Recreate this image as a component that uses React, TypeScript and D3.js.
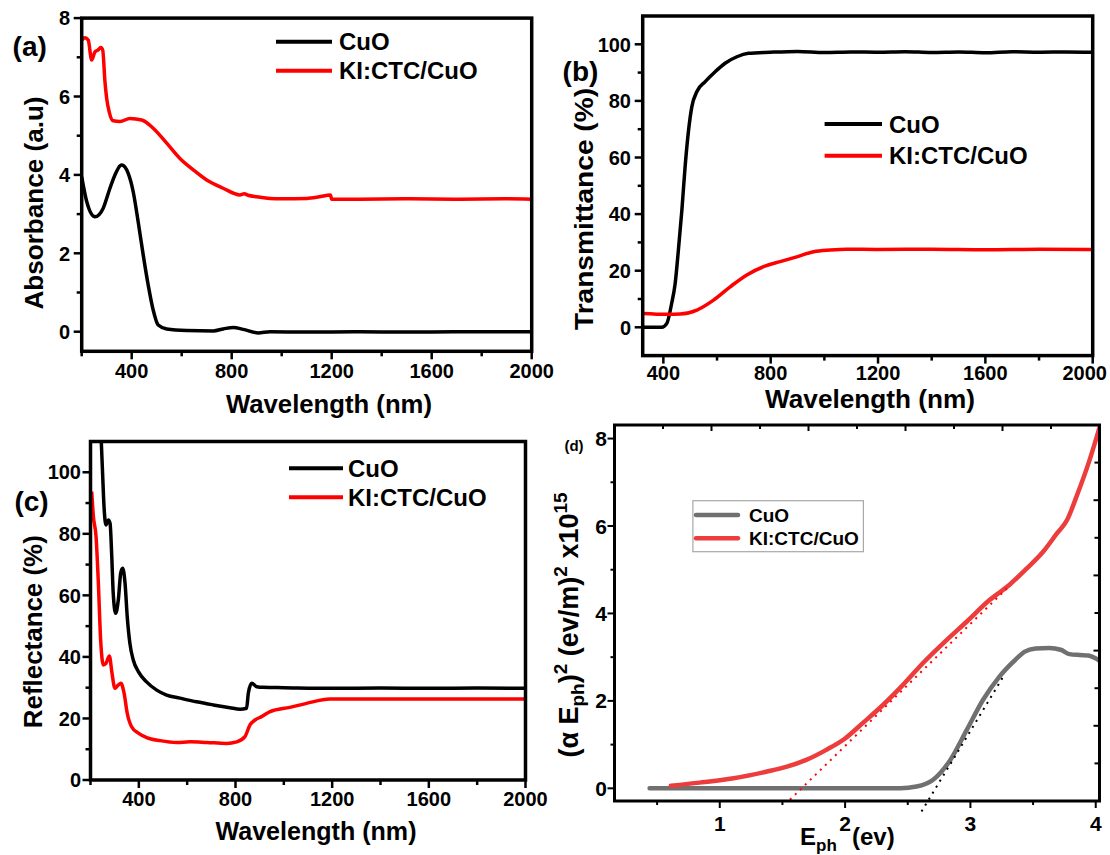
import React from "react";
import * as d3 from "d3";

const FONT = "'Liberation Sans', Arial, Helvetica, sans-serif";

// ---------------- (a) Absorbance ----------------
const absWlCuO = [200, 220, 253, 286, 313, 333, 360, 386, 406, 426, 446, 466, 486, 506, 540, 620, 726, 766, 806, 846, 906, 953, 1100, 1300, 1500, 1700, 1900, 2000];
const absCuO = [3.95, 3.32, 2.93, 3.15, 3.66, 4.0, 4.25, 4.04, 3.57, 2.8, 1.96, 1.19, 0.55, 0.17, 0.07, 0.03, 0.02, 0.07, 0.11, 0.06, -0.03, 0.0, -0.01, 0.0, -0.01, 0.0, 0.0, 0.0];
const absWlKI = [200, 213, 226, 240, 253, 266, 276, 284, 293, 300, 310, 326, 353, 393, 440, 486, 540, 593, 646, 700, 766, 833, 850, 866, 900, 953, 1000, 1100, 1150, 1195, 1200, 1300, 1500, 1700, 1900, 2000];
const absKI = [7.44, 7.5, 7.44, 6.93, 7.14, 7.19, 7.25, 7.19, 6.38, 5.95, 5.61, 5.38, 5.36, 5.44, 5.4, 5.19, 4.81, 4.42, 4.13, 3.87, 3.66, 3.49, 3.52, 3.48, 3.44, 3.4, 3.39, 3.4, 3.44, 3.49, 3.38, 3.38, 3.39, 3.38, 3.39, 3.38];

// ---------------- (b) Transmittance ----------------
const trWlCuO = [323, 394, 413, 431, 444, 456, 469, 481, 494, 506, 525, 556, 593, 630, 674, 717, 798, 900, 1000, 1100, 1200, 1300, 1400, 1500, 1600, 1700, 1800, 1900, 2000];
const trCuO = [0, 0, 1.4, 8.5, 15.5, 27.3, 41.4, 56.7, 69.7, 77.9, 83.3, 86.8, 90.3, 93.3, 95.6, 96.8, 97.2, 97.5, 97.1, 97.3, 97.2, 97.4, 97.1, 97.3, 97.0, 97.4, 97.2, 97.3, 97.2];
const trWlKI = [323, 413, 463, 525, 587, 649, 711, 773, 835, 897, 960, 1022, 1084, 1200, 1400, 1600, 1800, 2000];
const trKI = [4.9, 4.6, 4.7, 6.1, 9.6, 14.3, 18.5, 21.4, 23.2, 24.9, 26.7, 27.3, 27.6, 27.5, 27.6, 27.4, 27.6, 27.5];

// ---------------- (c) Reflectance ----------------
const rfWlCuO = [243, 250, 256, 264, 274, 281, 288, 294, 304, 315, 325, 333, 343, 352, 363, 377, 398, 432, 474, 515, 570, 639, 708, 777, 819, 846, 853, 867, 888, 915, 1000, 1200, 1400, 1600, 1800, 2000];
const rfCuO = [113, 99.7, 88.8, 82.9, 84.5, 83.4, 72.6, 60.7, 54.2, 58.5, 67.2, 68.8, 63.9, 53.1, 44.4, 39, 35.2, 31.9, 29.2, 27.6, 26.6, 25.4, 24.4, 23.5, 23.0, 23.3, 28.2, 31.4, 30.3, 30.1, 30.0, 29.8, 29.9, 29.8, 29.9, 29.8];
const rfWlKI = [205, 212, 223, 232, 242, 253, 264, 278, 289, 301, 315, 326, 339, 352, 370, 398, 432, 488, 557, 612, 681, 763, 805, 839, 860, 881, 908, 943, 1025, 1094, 1191, 1400, 1600, 1800, 2000];
const rfKI = [93.7, 85.6, 79.1, 65, 45.5, 37.4, 37.9, 40.3, 34.7, 29.8, 30.9, 31.4, 28.2, 21.7, 17.3, 15.2, 13.8, 12.8, 12.2, 12.4, 12.2, 11.9, 12.4, 14.1, 17.9, 19.5, 20.6, 22.2, 23.6, 24.9, 26.3, 26.3, 26.3, 26.3, 26.3];

// ---------------- (d) Tauc plot ----------------
const taucECuO = [0.44, 1.0, 1.5, 2.0, 2.44, 2.57, 2.7, 2.84, 2.97, 3.1, 3.23, 3.37, 3.43, 3.52, 3.63, 3.72, 3.79, 3.87, 3.94, 4.03];
const taucCuO = [0, 0, 0, 0, 0, 0.04, 0.19, 0.65, 1.33, 2.02, 2.55, 2.97, 3.12, 3.2, 3.21, 3.17, 3.07, 3.05, 3.04, 2.92];
const taucEKI = [0.61, 0.84, 1.11, 1.37, 1.53, 1.69, 1.85, 2.0, 2.14, 2.3, 2.46, 2.62, 2.81, 2.97, 3.15, 3.31, 3.45, 3.58, 3.69, 3.77, 3.85, 3.95, 4.03];
const taucKI = [0.06, 0.13, 0.23, 0.38, 0.49, 0.65, 0.88, 1.14, 1.49, 1.9, 2.36, 2.86, 3.39, 3.81, 4.3, 4.65, 5.03, 5.41, 5.83, 6.13, 6.7, 7.5, 8.25];
const fitEKI = [1.56, 3.29];
const fitKI = [-0.26, 4.57];
const fitECuO = [2.61, 3.27];
const fitCuO = [-0.53, 2.59];

// ---------------- labels & ticks ----------------
const legendLabels = ["CuO", "KI:CTC/CuO"];
const wlMajor = [400, 800, 1200, 1600, 2000];
const wlMinor = [200, 600, 1000, 1400, 1800];
const wlMinorB = [600, 1000, 1400, 1800];
const absMajor = [0, 2, 4, 6, 8];
const absMinor = [1, 3, 5, 7];
const pctMajor = [0, 20, 40, 60, 80, 100];
const pctMinor = [10, 30, 50, 70, 90];
const eMajor = [1, 2, 3, 4];
const eMinor = [0.5, 1.5, 2.5, 3.5];
const tMajor = [0, 2, 4, 6, 8];
const tMinor = [1, 3, 5, 7];
const auxMajor = [2, 4, 6, 8];
const auxMinor = [1, 3, 5, 7, 9];

type Lin = d3.ScaleLinear<number, number>;
type Series = { xs: number[]; ys: number[]; color: string; w: number; dash?: string; cap?: string; noClip?: boolean; straight?: boolean };

function pathOf(s: Series, x: Lin, y: Lin) {
  const gen = d3
    .line<number>()
    .x((_, i) => x(s.xs[i]))
    .y((_, i) => y(s.ys[i]))
    .curve(s.straight ? d3.curveLinear : d3.curveMonotoneX);
  return gen(s.xs.map((_, i) => i)) || "";
}

function Panel(p: {
  id: string;
  x: Lin;
  y: Lin;
  xMajor: number[];
  xMinor: number[];
  yMajor: number[];
  yMinor: number[];
  series: Series[];
  majorLen: number;
  minorLen: number;
  frameW: number;
  tickW: number;
  tickFont: number;
  xTickBase: number;
  yTickRight: number;
  xLabelMax?: number;
  inner?: { top: Lin; right: Lin; major: number[]; minor: number[] };
}) {
  const [x0, x1] = p.x.range();
  const [yb, yt] = p.y.range();
  const clipped = p.series.filter((s) => !s.noClip);
  const free = p.series.filter((s) => s.noClip);
  const labelX = (v: number) => {
    const cx = p.x(v);
    if (p.xLabelMax === undefined) return cx;
    const half = (String(v).length * 0.556 * p.tickFont) / 2;
    return Math.min(cx, p.xLabelMax - half);
  };
  return (
    <g>
      <defs>
        <clipPath id={p.id}>
          <rect x={x0} y={yt} width={x1 - x0} height={yb - yt} />
        </clipPath>
      </defs>
      <g clipPath={`url(#${p.id})`}>
        {clipped.map((s, i) => (
          <path key={i} d={pathOf(s, p.x, p.y)} fill="none" stroke={s.color} strokeWidth={s.w} strokeLinejoin="round" strokeLinecap={(s.cap as any) || "butt"} strokeDasharray={s.dash} />
        ))}
      </g>
      {free.map((s, i) => (
        <path key={"f" + i} d={pathOf(s, p.x, p.y)} fill="none" stroke={s.color} strokeWidth={s.w} strokeLinecap={(s.cap as any) || "butt"} strokeDasharray={s.dash} />
      ))}
      <g stroke="#000" strokeWidth={p.tickW}>
        {p.xMajor.map((v) => (
          <line key={"xM" + v} x1={p.x(v)} x2={p.x(v)} y1={yb} y2={yb + p.majorLen} />
        ))}
        {p.xMinor.map((v) => (
          <line key={"xm" + v} x1={p.x(v)} x2={p.x(v)} y1={yb} y2={yb + p.minorLen} />
        ))}
        {p.yMajor.map((v) => (
          <line key={"yM" + v} x1={x0 - p.majorLen} x2={x0} y1={p.y(v)} y2={p.y(v)} />
        ))}
        {p.yMinor.map((v) => (
          <line key={"ym" + v} x1={x0 - p.minorLen} x2={x0} y1={p.y(v)} y2={p.y(v)} />
        ))}
        {p.inner &&
          p.inner.major.map((v) => (
            <g key={"iM" + v}>
              <line x1={p.inner!.top(v)} x2={p.inner!.top(v)} y1={yt} y2={yt + 6} />
              <line x1={x1 - 6} x2={x1} y1={p.inner!.right(v)} y2={p.inner!.right(v)} />
            </g>
          ))}
        {p.inner &&
          p.inner.minor.map((v) => (
            <g key={"im" + v}>
              <line x1={p.inner!.top(v)} x2={p.inner!.top(v)} y1={yt} y2={yt + 4} />
              <line x1={x1 - 5} x2={x1} y1={p.inner!.right(v)} y2={p.inner!.right(v)} />
            </g>
          ))}
      </g>
      <rect x={x0} y={yt} width={x1 - x0} height={yb - yt} fill="none" stroke="#000" strokeWidth={p.frameW} />
      <g fontFamily={FONT} fontWeight="bold" fontSize={p.tickFont} fill="#000">
        {p.xMajor.map((v) => (
          <text key={"xl" + v} x={labelX(v)} y={p.xTickBase} textAnchor="middle">
            {String(v)}
          </text>
        ))}
        {p.yMajor.map((v) => (
          <text key={"yl" + v} x={p.yTickRight} y={p.y(v)} dy="0.36em" textAnchor="end">
            {String(v)}
          </text>
        ))}
      </g>
    </g>
  );
}

function Legend(p: { x1: number; x2: number; tx: number; rows: number[]; colors: string[]; font: number; w: number; cap?: string }) {
  return (
    <g fontFamily={FONT} fontWeight="bold" fontSize={p.font} fill="#000">
      {legendLabels.map((lab, i) => (
        <g key={lab}>
          <line x1={p.x1} x2={p.x2} y1={p.rows[i]} y2={p.rows[i]} stroke={p.colors[i]} strokeWidth={p.w} strokeLinecap={(p.cap as any) || "butt"} />
          <text x={p.tx} y={p.rows[i]} dy="0.36em">
            {lab}
          </text>
        </g>
      ))}
    </g>
  );
}

function XTitle(p: { cx: number; base: number; len: number; text: string }) {
  return (
    <text x={p.cx} y={p.base} textAnchor="middle" fontFamily={FONT} fontWeight="bold" fontSize={26} textLength={p.len} lengthAdjust="spacingAndGlyphs">
      {p.text}
    </text>
  );
}

function YTitle(p: { bx: number; cy: number; len: number; text: string }) {
  return (
    <text transform={`translate(${p.bx},${p.cy}) rotate(-90)`} textAnchor="middle" fontFamily={FONT} fontWeight="bold" fontSize={26} textLength={p.len} lengthAdjust="spacingAndGlyphs">
      {p.text}
    </text>
  );
}

export default function App() {
  const xA = d3.scaleLinear().domain([200, 2000]).range([81.7, 531.7]);
  const yA = d3.scaleLinear().domain([-0.5, 8]).range([351.3, 18.1]);
  const xB = d3.scaleLinear().domain([323, 2000]).range([642.7, 1092.7]);
  const yB = d3.scaleLinear().domain([-10, 110]).range([355.6, 16]);
  const xC = d3.scaleLinear().domain([200, 2000]).range([90.5, 525.5]);
  const yC = d3.scaleLinear().domain([0, 110]).range([780, 441.5]);
  const xD = d3.scaleLinear().domain([0.16, 4.03]).range([614.5, 1099.5]);
  const yD = d3.scaleLinear().domain([-0.29, 8.31]).range([801, 425]);
  const topD = d3.scaleLinear().domain([0, 10]).range([614.5, 1099.5]);
  const rightD = d3.scaleLinear().domain([0, 10]).range([801, 425]);

  const BLACK = "#000000";
  const RED = "#ff0000";
  const GRAY = "#707070";
  const RED2 = "#ec3c3c";

  return (
    <svg width={1110} height={855} style={{ position: "absolute", left: 0, top: 0, background: "#fff" }}>
      <rect x={0} y={0} width={1110} height={855} fill="#fff" />

      {/* (a) */}
      <Panel
        id="clipA"
        x={xA}
        y={yA}
        xMajor={wlMajor}
        xMinor={wlMinor}
        yMajor={absMajor}
        yMinor={absMinor}
        majorLen={8}
        minorLen={5}
        frameW={3.5}
        tickW={2.5}
        tickFont={20}
        xTickBase={378}
        yTickRight={70}
        series={[
          { xs: absWlCuO, ys: absCuO, color: BLACK, w: 3.5 },
          { xs: absWlKI, ys: absKI, color: RED, w: 3.5 },
        ]}
      />
      <Legend x1={276} x2={332} tx={339} rows={[41.7, 70.7]} colors={[BLACK, RED]} font={24} w={4} />
      <text x={12.6} y={56} fontFamily={FONT} fontWeight="bold" fontSize={28}>(a)</text>
      <XTitle cx={329} base={413} len={206} text="Wavelength (nm)" />
      <YTitle bx={43.3} cy={203} len={213} text="Absorbance (a.u)" />

      {/* (b) */}
      <Panel
        id="clipB"
        x={xB}
        y={yB}
        xMajor={wlMajor}
        xMinor={wlMinorB}
        yMajor={pctMajor}
        yMinor={pctMinor}
        majorLen={8}
        minorLen={5}
        frameW={3.5}
        tickW={2.5}
        tickFont={20}
        xTickBase={380}
        yTickRight={631}
        xLabelMax={1107}
        series={[
          { xs: trWlCuO, ys: trCuO, color: BLACK, w: 3.5 },
          { xs: trWlKI, ys: trKI, color: RED, w: 3.5 },
        ]}
      />
      <Legend x1={824.6} x2={882} tx={889} rows={[124, 155.7]} colors={[BLACK, RED]} font={24} w={4} />
      <text x={562.6} y={81} fontFamily={FONT} fontWeight="bold" fontSize={28}>(b)</text>
      <XTitle cx={870} base={408} len={210} text="Wavelength (nm)" />
      <YTitle bx={592.7} cy={209} len={242} text="Transmittance (%)" />

      {/* (c) */}
      <Panel
        id="clipC"
        x={xC}
        y={yC}
        xMajor={wlMajor}
        xMinor={wlMinor}
        yMajor={pctMajor}
        yMinor={pctMinor}
        majorLen={8}
        minorLen={5}
        frameW={3.5}
        tickW={2.5}
        tickFont={20}
        xTickBase={806}
        yTickRight={81}
        series={[
          { xs: rfWlCuO, ys: rfCuO, color: BLACK, w: 3.5 },
          { xs: rfWlKI, ys: rfKI, color: RED, w: 3.5 },
        ]}
      />
      <Legend x1={289} x2={343} tx={348} rows={[468.3, 497.3]} colors={[BLACK, RED]} font={24} w={4} />
      <text x={14.4} y={511} fontFamily={FONT} fontWeight="bold" fontSize={28}>(c)</text>
      <XTitle cx={316} base={840} len={201} text="Wavelength (nm)" />
      <YTitle bx={41.6} cy={631.7} len={193} text="Reflectance (%)" />

      {/* (d) */}
      <Panel
        id="clipD"
        x={xD}
        y={yD}
        xMajor={eMajor}
        xMinor={eMinor}
        yMajor={tMajor}
        yMinor={tMinor}
        majorLen={7}
        minorLen={4}
        frameW={3}
        tickW={2}
        tickFont={21}
        xTickBase={831}
        yTickRight={607}
        inner={{ top: topD, right: rightD, major: auxMajor, minor: auxMinor }}
        series={[
          { xs: taucECuO, ys: taucCuO, color: GRAY, w: 4.5, cap: "round" },
          { xs: taucEKI, ys: taucKI, color: RED2, w: 4.5, cap: "round" },
          { xs: fitEKI, ys: fitKI, color: "#ff0000", w: 2, dash: "2 5", noClip: true, straight: true },
          { xs: fitECuO, ys: fitCuO, color: "#000", w: 2, dash: "2 5", noClip: true, straight: true },
        ]}
      />
      <rect x={692.9} y={500.7} width={170.5} height={51} fill="#fff" stroke="#a8a8a8" strokeWidth={1.2} />
      <Legend x1={696} x2={738} tx={749} rows={[515, 538.3]} colors={[GRAY, RED2]} font={19} w={4.5} cap="round" />
      <text x={564.4} y={451} fontFamily={FONT} fontWeight="bold" fontSize={15}>(d)</text>
      <text x={800} y={845} fontFamily={FONT} fontWeight="bold" fontSize={24}>
        E<tspan fontSize={17} dy={6}>ph</tspan>
      </text>
      <text x={852} y={845} fontFamily={FONT} fontWeight="bold" fontSize={24}>(ev)</text>
      <text transform={`translate(578,625) rotate(-90)`} textAnchor="middle" fontFamily={FONT} fontWeight="bold" fontSize={27}>
        (α E<tspan fontSize={19} dy={6}>ph</tspan>
        <tspan dy={-6}>)</tspan>
        <tspan fontSize={19} dy={-11}>2</tspan>
        <tspan dy={11}> (ev/m)</tspan>
        <tspan fontSize={19} dy={-11}>2</tspan>
        <tspan dy={11}> x10</tspan>
        <tspan fontSize={19} dy={-11}>15</tspan>
      </text>
    </svg>
  );
}
